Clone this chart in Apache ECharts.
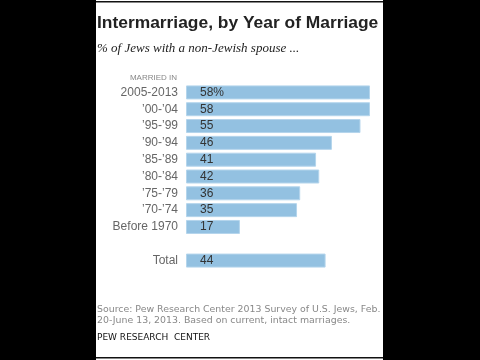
<!DOCTYPE html>
<html>
<head>
<meta charset="utf-8">
<script src="https://cdn.jsdelivr.net/npm/echarts@6/dist/echarts.min.js"></script>
<style>
  html, body { margin: 0; padding: 0; background: #000; }
  #chart { width: 480px; height: 360px; }
</style>
</head>
<body>
<div id="chart"></div>
<script>
// married-in periods, a blank slot, then the total
const periods = ['2005-2013', '\u201900-\u201904', '\u201995-\u201999', '\u201990-\u201994', '\u201985-\u201989',
    '\u201980-\u201984', '\u201975-\u201979', '\u201970-\u201974', 'Before 1970', '', 'Total']
const shares = [58, 58, 55, 46, 41, 42, 36, 35, 17, null, 44]

let chart = echarts.init(document.querySelector('#chart'))
let option = {
    backgroundColor: '#000',
    animation: false,
    graphic: [
        { type: 'rect', shape: { x: 96, y: 0, width: 287, height: 360 }, style: { fill: '#fff' }, z: -10 },
        { type: 'rect', shape: { x: 96, y: 1, width: 287, height: 1.5 }, style: { fill: '#111' } },
        { type: 'rect', shape: { x: 96, y: 357, width: 287, height: 1.5 }, style: { fill: '#111' } },
        {
            type: 'text', left: 97, top: 15,
            style: { text: 'Intermarriage, by Year of Marriage', fill: '#222', font: 'bold 17.4px "Liberation Sans"' }
        },
        {
            type: 'text', left: 97, top: 42,
            style: { text: '% of Jews with a non-Jewish spouse ...', fill: '#222', font: 'italic 13px "Liberation Serif"' }
        },
        {
            type: 'text', right: 480 - 177, top: 74,
            style: { text: 'MARRIED IN', fill: '#888', font: '8px "Liberation Sans"', align: 'right' }
        },
        {
            type: 'text', left: 97, top: 304,
            style: {
                text: 'Source: Pew Research Center 2013 Survey of U.S. Jews, Feb.\n20-June 13, 2013. Based on current, intact marriages.',
                fill: '#888', font: '9.4px "DejaVu Sans"', lineHeight: 11
            }
        },
        {
            type: 'text', left: 97, top: 333,
            style: { text: 'PEW RESEARCH  CENTER', fill: '#111', font: '9px "DejaVu Sans"' }
        }
    ],
    grid: { left: 186, width: 184, top: 84, height: 185 },
    xAxis: {
        type: 'value', min: 0, max: 58, show: false
    },
    yAxis: {
        type: 'category',
        data: periods,
        inverse: true,
        axisLine: { show: false },
        axisTick: { show: false },
        axisLabel: { color: '#666', fontSize: 12, fontFamily: 'Liberation Sans', margin: 8 }
    },
    series: [
        {
            type: 'bar',
            data: shares,
            barWidth: 14,
            itemStyle: { color: '#93c1e1', borderColor: '#b4d5ec', borderWidth: 1 },
            label: {
                show: true,
                position: 'insideLeft',
                distance: 14,
                color: '#333',
                fontSize: 12,
                fontFamily: 'Liberation Sans',
                formatter: p => p.dataIndex === 0 ? p.value + '%' : p.value
            }
        }
    ]
}
chart.setOption(option)
</script>
</body>
</html>
